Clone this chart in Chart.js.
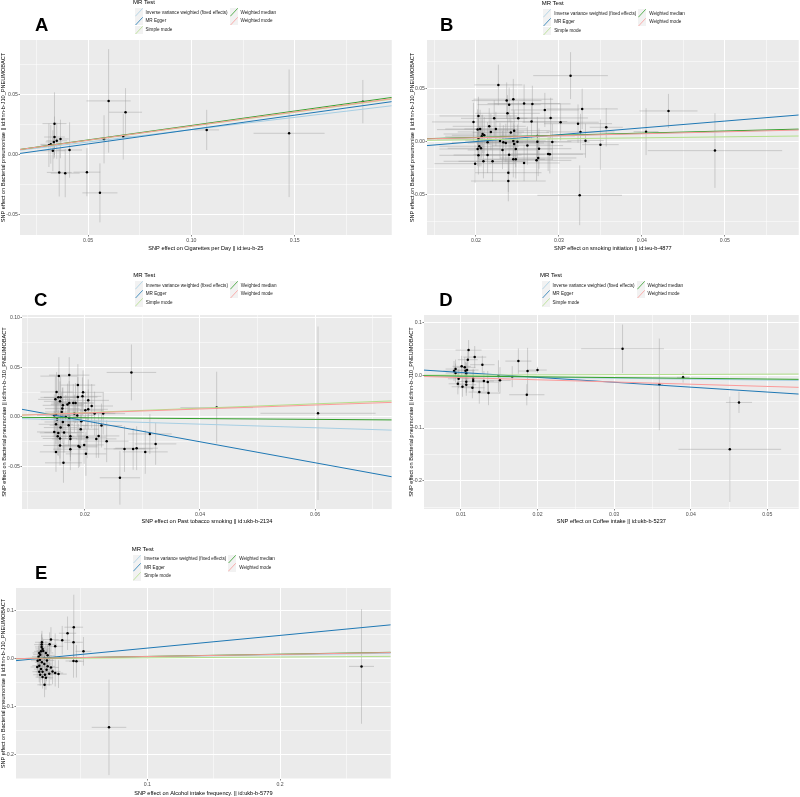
<!DOCTYPE html>
<html><head><meta charset="utf-8">
<script src="https://cdn.jsdelivr.net/npm/chart.js@4/dist/chart.umd.min.js"></script>
<style>
html,body{margin:0;padding:0;background:#fff;}
body{width:800px;height:797px;position:relative;overflow:hidden;font-family:"Liberation Sans",Arial,Helvetica,sans-serif;}
canvas{position:absolute;}
.lab{position:absolute;font-weight:bold;font-size:18.5px;line-height:18.5px;color:#000;}
.lt{position:absolute;font-size:6px;line-height:7px;color:#000;white-space:nowrap;}
.li{position:absolute;font-size:4.6px;line-height:6px;color:#1a1a1a;white-space:nowrap;}
.lk{position:absolute;width:8px;height:8.6px;background:#F2F2F2;}
.lk svg{position:absolute;left:0;top:0;}
</style>
</head><body>
<script>
// ---------- shared ----------
const METHODS = ["Inverse variance weighted (fixed effects)","MR Egger","Simple mode","Weighted median","Weighted mode"];
const METHOD_COLORS = ["#a6cee3","#1f78b4","#b2df8a","#33a02c","#fb9a99"];
const LEGEND_TITLE = "MR Test";
const Y_TITLE = "SNP effect on Bacterial pneumoniae || id:finn-b-J10_PNEUMOBACT";

// ---------- Panel A ----------
const A_xTitle = "SNP effect on Cigarettes per Day || id:ieu-b-25";
const A_bx = [0.1830,0.1473,0.1074,0.0599,0.0681,0.0670,0.0577,0.0557,0.0494,0.0389,0.0360,0.0337,0.0337,0.0366,0.0348,0.0334,0.0319,0.0310,0.0329,0.0410];
const A_by = [0.0438,0.0175,0.0203,0.0444,0.0350,0.0147,0.0125,-0.0320,-0.0148,-0.0156,-0.0150,0.0255,0.0144,0.0128,0.0113,0.0103,0.0083,0.0075,0.0030,0.0036];
const A_sex = [0.0020,0.0172,0.0060,0.0107,0.0080,0.0040,0.0030,0.0085,0.0065,0.0070,0.0060,0.0058,0.0050,0.0040,0.0050,0.0040,0.0050,0.0040,0.0060,0.0060];
const A_sey = [0.0180,0.0530,0.0167,0.0430,0.0200,0.0190,0.0200,0.0245,0.0200,0.0200,0.0200,0.0260,0.0170,0.0160,0.0150,0.0140,0.0160,0.0180,0.0170,0.0230];
const A_slopes = [0.205,0.239,0.233,0.240,0.235];
const A_intercepts = [0,-0.0033,0,0,0];
const A_xTicks = ["0.05","0.10","0.15"];
const A_yTicks = ["-0.05","0.00","0.05"];
const A_xRange = [0.017,0.197];
const A_yRange = [-0.067,0.095];

// ---------- Panel B ----------
const B_xTitle = "SNP effect on smoking initiation || id:ieu-b-4877";
const B_bx = [0.0314,0.0227,0.0237,0.0245,0.0240,0.0258,0.0268,0.0283,0.0328,0.0238,
0.0203,0.0251,0.0222,0.0290,0.0197,0.0267,0.0302,0.0323,0.0357,0.0216,
0.0224,0.0202,0.0205,0.0218,0.0242,0.0246,0.0208,0.0210,0.0207,0.0326,
0.0274,0.0203,0.0229,0.0233,0.0236,0.0214,0.0245,0.0246,0.0250,0.0274,
0.0292,0.0332,0.0350,0.0262,0.0204,0.0206,0.0202,0.0232,0.0248,0.0276,
0.0203,0.0214,0.0240,0.0287,0.0289,0.0275,0.0273,0.0248,0.0245,0.0209,
0.0220,0.0199,0.0258,0.0239,0.0239,0.0325,0.0432,0.0405,0.0488];
const B_by = [0.0619,0.0532,0.0385,0.0398,0.0347,0.0357,0.0354,0.0297,0.0307,0.0266,
0.0241,0.0219,0.0219,0.0222,0.0185,0.0188,0.0182,0.0169,0.0135,0.0144,
0.0119,0.0113,0.0119,0.0091,0.0085,0.0103,0.0072,0.0060,0.0051,0.0091,
0.0053,0.0025,0.0007,-0.0006,-0.0012,-0.0006,0.0007,-0.0022,0.0000,0.0000,
-0.0003,0.0009,-0.0028,-0.0037,-0.0043,-0.0062,-0.0069,-0.0078,-0.0069,-0.0066,
-0.0128,-0.0125,-0.0122,-0.0115,-0.0118,-0.0153,-0.0175,-0.0165,-0.0165,-0.0184,
-0.0184,-0.0206,-0.0200,-0.0291,-0.0369,-0.0503,0.0288,0.0094,-0.0084];
const B_sex = [0.0045,0.0029,0.0042,0.0048,0.0038,0.0044,0.0046,0.0041,0.0043,0.0039,
0.0047,0.0042,0.0040,0.0045,0.0050,0.0043,0.0046,0.0041,0.0020,0.0044,
0.0038,0.0049,0.0042,0.0040,0.0046,0.0043,0.0047,0.0039,0.0044,0.0041,
0.0045,0.0050,0.0042,0.0040,0.0046,0.0043,0.0039,0.0044,0.0047,0.0041,
0.0045,0.0022,0.0022,0.0043,0.0048,0.0040,0.0046,0.0042,0.0044,0.0039,
0.0047,0.0041,0.0043,0.0045,0.0040,0.0046,0.0042,0.0044,0.0038,0.0048,
0.0041,0.0049,0.0043,0.0040,0.0045,0.0051,0.0035,0.0015,0.0081];
const B_sey = [0.0220,0.0190,0.0170,0.0190,0.0160,0.0180,0.0170,0.0160,0.0190,0.0170,
0.0180,0.0160,0.0170,0.0190,0.0180,0.0160,0.0170,0.0180,0.0180,0.0170,
0.0160,0.0190,0.0180,0.0170,0.0160,0.0190,0.0180,0.0170,0.0200,0.0170,
0.0180,0.0190,0.0170,0.0160,0.0180,0.0190,0.0170,0.0180,0.0160,0.0190,
0.0170,0.0160,0.0235,0.0180,0.0190,0.0170,0.0160,0.0180,0.0170,0.0190,
0.0180,0.0170,0.0190,0.0160,0.0180,0.0170,0.0190,0.0180,0.0170,0.0160,
0.0190,0.0180,0.0170,0.0180,0.0190,0.0280,0.0160,0.0220,0.0350];
const B_slopes = [0.190,0.640,0.090,0.200,0.185];
const B_intercepts = [0,-0.0127,0,0,0];
const B_xTicks = ["0.02","0.03","0.04","0.05"];
const B_yTicks = ["-0.05","0.00","0.05"];
const B_xRange = [0.0141,0.0589];
const B_yRange = [-0.0875,0.0953];

// ---------- Panel C ----------
const C_xTitle = "SNP effect on Past tobacco smoking || id:ukb-b-2134";
const C_bx = [0.0281,0.0155,0.0173,0.0188,0.0151,0.0197,0.0154,0.0158,0.0188,0.0149,
0.0196,0.0206,0.0157,0.0173,0.0180,0.0170,0.0184,0.0162,0.0212,0.0161,
0.0206,0.0201,0.0217,0.0232,0.0160,0.0150,0.0182,0.0187,0.0167,0.0173,
0.0152,0.0194,0.0162,0.0150,0.0172,0.0158,0.0229,0.0193,0.0147,0.0154,
0.0164,0.0153,0.0175,0.0224,0.0157,0.0204,0.0220,0.0175,0.0238,0.0157,
0.0189,0.0191,0.0199,0.0175,0.0150,0.0202,0.0163,0.0269,0.0284,0.0290,
0.0261,0.0313,0.0323,0.0305,0.0429,0.0605,0.0147];
const C_by = [0.0447,0.0410,0.0420,0.0320,0.0250,0.0247,0.0197,0.0197,0.0200,0.0177,
0.0207,0.0167,0.0157,0.0140,0.0140,0.0124,0.0140,0.0117,0.0110,0.0084,
0.0077,0.0067,0.0034,0.0034,0.0050,0.0024,0.0034,0.0014,0.0000,-0.0010,
-0.0026,-0.0043,-0.0050,-0.0073,-0.0083,-0.0106,-0.0086,-0.0123,-0.0150,-0.0160,
-0.0156,-0.0193,-0.0193,-0.0190,-0.0216,-0.0203,-0.0220,-0.0220,-0.0243,-0.0286,
-0.0290,-0.0300,-0.0280,-0.0323,-0.0350,-0.0370,-0.0460,-0.0320,-0.0320,-0.0313,
-0.0610,-0.0170,-0.0270,-0.0350,0.0094,0.0037,0.0017];
const C_sex = [0.0043,0.0032,0.0035,0.0030,0.0028,0.0036,0.0031,0.0029,0.0034,0.0030,
0.0033,0.0036,0.0028,0.0031,0.0034,0.0029,0.0032,0.0035,0.0037,0.0030,
0.0034,0.0031,0.0036,0.0038,0.0029,0.0033,0.0032,0.0030,0.0035,0.0031,
0.0028,0.0034,0.0032,0.0030,0.0033,0.0029,0.0036,0.0031,0.0030,0.0032,
0.0034,0.0029,0.0031,0.0036,0.0030,0.0033,0.0035,0.0032,0.0038,0.0029,
0.0033,0.0031,0.0034,0.0030,0.0028,0.0035,0.0032,0.0036,0.0034,0.0037,
0.0035,0.0038,0.0036,0.0039,0.0063,0.0100,0.0030];
const C_sey = [0.0280,0.0190,0.0180,0.0210,0.0200,0.0220,0.0190,0.0210,0.0200,0.0230,
0.0190,0.0210,0.0200,0.0220,0.0190,0.0210,0.0200,0.0180,0.0220,0.0210,
0.0200,0.0190,0.0220,0.0210,0.0200,0.0230,0.0190,0.0210,0.0220,0.0200,
0.0210,0.0190,0.0220,0.0200,0.0210,0.0190,0.0220,0.0200,0.0210,0.0230,
0.0200,0.0190,0.0210,0.0220,0.0200,0.0210,0.0190,0.0220,0.0210,0.0200,
0.0220,0.0200,0.0190,0.0210,0.0200,0.0220,0.0200,0.0230,0.0210,0.0220,
0.0270,0.0200,0.0210,0.0220,0.0360,0.0870,0.0210];
const C_slopes = [-0.180,-1.054,0.220,-0.040,0.200];
const C_intercepts = [0,0.0173,0,0,0];
const C_xTicks = ["0.02","0.04","0.06"];
const C_yTicks = ["-0.05","0.00","0.05","0.10"];
const C_xRange = [0.0091,0.0733];
const C_yRange = [-0.0923,0.1023];

// ---------- Panel D ----------
const D_xTitle = "SNP effect on Coffee intake || id:ukb-b-5237";
const D_bx = [0.0110,0.0118,0.0109,0.0128,0.0101,0.0105,0.0093,0.0108,0.0106,0.0091,
0.0093,0.0107,0.0175,0.0187,0.0200,0.0149,0.0151,0.0167,0.0116,0.0107,
0.0097,0.0116,0.0130,0.0135,0.0096,0.0102,0.0107,0.0115,0.0124,0.0136,
0.0186,0.0311,0.0359,0.0390,0.0463,0.0451];
const D_by = [0.0480,0.0347,0.0297,0.0202,0.0171,0.0152,0.0120,0.0101,0.0088,0.0082,
0.0044,0.0038,0.0271,0.0082,0.0101,-0.0013,-0.0095,-0.0025,-0.0064,-0.0121,
-0.0064,-0.0108,-0.0108,-0.0127,-0.0160,-0.0216,-0.0178,-0.0235,-0.0317,-0.0336,
-0.0368,0.0505,-0.0171,-0.0038,-0.0513,-0.1404];
const D_sex = [0.0017,0.0015,0.0013,0.0016,0.0012,0.0014,0.0013,0.0015,0.0012,0.0014,
0.0013,0.0015,0.0017,0.0012,0.0012,0.0016,0.0014,0.0015,0.0013,0.0012,
0.0014,0.0016,0.0013,0.0015,0.0012,0.0014,0.0013,0.0016,0.0014,0.0015,
0.0023,0.0054,0.0005,0.0008,0.0017,0.0067];
const D_sey = [0.0190,0.0210,0.0180,0.0170,0.0200,0.0190,0.0180,0.0200,0.0170,0.0190,
0.0180,0.0200,0.0240,0.0440,0.0060,0.0300,0.0250,0.0200,0.0190,0.0210,
0.0180,0.0200,0.0190,0.0210,0.0200,0.0190,0.0210,0.0200,0.0220,0.0230,
0.0200,0.0460,0.0870,0.0100,0.0200,0.1000];
const D_slopes = [-0.180,-0.930,0.046,-0.140,-0.420];
const D_intercepts = [0,0.0148,0,0,0];
const D_xTicks = ["0.01","0.02","0.03","0.04","0.05"];
const D_yTicks = ["-0.2","-0.1","0.0","0.1"];
const D_xRange = [0.00518,0.0541];
const D_yRange = [-0.2537,0.1146];

// ---------- Panel E ----------
const E_xTitle = "SNP effect on Alcohol intake frequency. || id:ukb-b-5779";
const E_bx = [0.2613,0.0712,0.0447,0.0400,0.0360,0.0445,0.0520,0.0445,0.0467,0.0275,
0.0265,0.0307,0.0207,0.0205,0.0205,0.0212,0.0200,0.0187,0.0217,0.0194,
0.0182,0.0237,0.0250,0.0227,0.0262,0.0245,0.0192,0.0207,0.0175,0.0225,
0.0250,0.0187,0.0172,0.0275,0.0200,0.0242,0.0287,0.0212,0.0187,0.0262,
0.0230,0.0307,0.0194,0.0212,0.0332,0.0237,0.0227];
const E_by = [-0.0162,-0.1438,0.0659,0.0533,0.0386,0.0343,0.0154,-0.0048,-0.0055,0.0400,
0.0301,0.0259,0.0343,0.0295,0.0246,0.0204,0.0154,0.0120,0.0162,0.0084,
0.0042,0.0120,0.0070,0.0014,0.0014,-0.0036,-0.0021,-0.0077,-0.0042,-0.0112,
-0.0161,-0.0147,-0.0175,-0.0183,-0.0218,-0.0232,-0.0267,-0.0274,-0.0274,-0.0316,
-0.0337,-0.0302,-0.0337,-0.0386,-0.0323,-0.0400,-0.0547];
const E_sex = [0.0094,0.0130,0.0070,0.0065,0.0060,0.0070,0.0060,0.0060,0.0055,0.0058,
0.0055,0.0060,0.0052,0.0056,0.0050,0.0054,0.0052,0.0050,0.0055,0.0053,
0.0050,0.0056,0.0054,0.0052,0.0058,0.0055,0.0051,0.0053,0.0050,0.0054,
0.0056,0.0052,0.0050,0.0058,0.0053,0.0055,0.0060,0.0052,0.0051,0.0057,
0.0054,0.0060,0.0052,0.0053,0.0062,0.0055,0.0054];
const E_sey = [0.1200,0.1000,0.0680,0.0350,0.0300,0.0300,0.0300,0.0350,0.0340,0.0260,
0.0250,0.0270,0.0240,0.0230,0.0250,0.0240,0.0220,0.0230,0.0240,0.0220,
0.0230,0.0250,0.0240,0.0230,0.0260,0.0240,0.0220,0.0230,0.0220,0.0240,
0.0250,0.0230,0.0220,0.0260,0.0230,0.0240,0.0270,0.0230,0.0220,0.0250,
0.0240,0.0280,0.0230,0.0240,0.0290,0.0250,0.0260];
const E_slopes = [0.040,0.266,0.017,0.047,0.045];
const E_intercepts = [0,-0.0045,0,0,0];
const E_xTicks = ["0.1","0.2"];
const E_yTicks = ["-0.2","-0.1","0.0","0.1"];
const E_xRange = [0.0012,0.2833];
const E_yRange = [-0.252,0.148];

// ---------- layout (positions only) ----------
const PANELS = [
  {label:"A", xTitle:A_xTitle, bx:A_bx, by:A_by, sex:A_sex, sey:A_sey, slopes:A_slopes, ints:A_intercepts, xTicks:A_xTicks, yTicks:A_yTicks, xRange:A_xRange, yRange:A_yRange,
   box:{cl:0, L:20, R:393, T:40, B:235, yTX:3, xTY:248.5}, letter:{x:35, base:31.7}, legend:{x:133, y:2.8}},
  {label:"B", xTitle:B_xTitle, bx:B_bx, by:B_by, sex:B_sex, sey:B_sey, slopes:B_slopes, ints:B_intercepts, xTicks:B_xTicks, yTicks:B_yTicks, xRange:B_xRange, yRange:B_yRange,
   box:{cl:400, L:427, R:800, T:40, B:235, yTX:412, xTY:248.5}, letter:{x:440, base:31.7}, legend:{x:541.7, y:3.8}},
  {label:"C", xTitle:C_xTitle, bx:C_bx, by:C_by, sex:C_sex, sey:C_sey, slopes:C_slopes, ints:C_intercepts, xTicks:C_xTicks, yTicks:C_yTicks, xRange:C_xRange, yRange:C_yRange,
   box:{cl:0, L:22, R:393, T:315, B:509, yTX:4.5, xTY:522}, letter:{x:34, base:306.7}, legend:{x:133.3, y:275.7}},
  {label:"D", xTitle:D_xTitle, bx:D_bx, by:D_by, sex:D_sex, sey:D_sey, slopes:D_slopes, ints:D_intercepts, xTicks:D_xTicks, yTicks:D_yTicks, xRange:D_xRange, yRange:D_yRange,
   box:{cl:400, L:424, R:800, T:315, B:509, yTX:411, xTY:522}, letter:{x:439.3, base:306.7}, legend:{x:540, y:275.7}},
  {label:"E", xTitle:E_xTitle, bx:E_bx, by:E_by, sex:E_sex, sey:E_sey, slopes:E_slopes, ints:E_intercepts, xTicks:E_xTicks, yTicks:E_yTicks, xRange:E_xRange, yRange:E_yRange,
   box:{cl:0, L:16, R:392, T:588, B:779, yTX:2.5, xTY:793.5}, letter:{x:35, base:580}, legend:{x:131.7, y:549.3}}
];

Chart.defaults.font.family = "'Liberation Sans', Arial, Helvetica, sans-serif";

function makeTicks(labels, min, max){
  const vals = labels.map(Number);
  const step = vals[1]-vals[0], half = step/2;
  const out = [];
  const k0 = Math.floor((min-vals[0])/half)-1, k1 = Math.ceil((max-vals[0])/half)+1;
  for (let k=k0;k<=k1;k++){
    const v = Math.round((vals[0]+k*half)*1e9)/1e9;
    if (v < min-1e-12 || v > max+1e-12) continue;
    const mj = (k%2===0);
    let lbl = '';
    if (mj){ const idx = vals.findIndex(t=>Math.abs(t-v)<half/10); if (idx>=0) lbl = labels[idx]; }
    out.push({value:v, mj:mj, lbl:lbl});
  }
  return out;
}

const TITLE_FS = 5.6, TICK_FS = 5.2;

function axisOpts(isX, labels, range, title, size, titlePad){
  return {
    type:'linear', position: isX?'bottom':'left', min:range[0], max:range[1],
    afterBuildTicks: s => { s.ticks = makeTicks(labels, range[0], range[1]); },
    afterFit: s => { if (isX) s.height = size; else s.width = size; },
    ticks:{autoSkip:false, maxRotation:0, minRotation:0, padding:0.5, color:'#4D4D4D', font:{size:TICK_FS},
      callback:(v,i,t)=> (t[i] && t[i].lbl !== undefined) ? t[i].lbl : ''},
    grid:{drawTicks:true, tickLength:1.5, color:'#FFFFFF',
      lineWidth: c => (c.tick && c.tick.mj) ? 1 : 0.5,
      tickColor: c => (c.tick && c.tick.mj) ? '#333333' : 'rgba(0,0,0,0)', tickWidth:0.6},
    border:{display:false},
    title:{display:true, text:title, color:'#000', font:{size:TITLE_FS}, padding:{top:titlePad, bottom:0}}
  };
}

const mrPlugin = {
  id:'mrPlot',
  beforeDraw(chart){
    const {ctx, chartArea:a} = chart;
    ctx.save(); ctx.fillStyle = '#EBEBEB';
    ctx.fillRect(a.left, a.top, a.right-a.left, a.bottom-a.top); ctx.restore();
  },
  beforeDatasetsDraw(chart){
    const ds = chart.data.datasets[0];
    const xs = chart.scales.x, ys = chart.scales.y, a = chart.chartArea, ctx = chart.ctx;
    ctx.save();
    ctx.beginPath(); ctx.rect(a.left, a.top, a.right-a.left, a.bottom-a.top); ctx.clip();
    ctx.strokeStyle = 'rgba(150,150,150,0.5)'; ctx.lineWidth = 0.8;
    ds.data.forEach((p,i)=>{
      const px = xs.getPixelForValue(p.x), py = ys.getPixelForValue(p.y);
      ctx.beginPath();
      ctx.moveTo(xs.getPixelForValue(p.x-ds.sex[i]), py); ctx.lineTo(xs.getPixelForValue(p.x+ds.sex[i]), py);
      ctx.stroke();
      ctx.beginPath();
      ctx.moveTo(px, ys.getPixelForValue(p.y-ds.sey[i])); ctx.lineTo(px, ys.getPixelForValue(p.y+ds.sey[i]));
      ctx.stroke();
    });
    ctx.restore();
  }
};

function makePanel(p){
  const b = p.box, lh = TITLE_FS*1.2;
  const ct = b.T - 8;
  const cb = Math.round(b.xTY + lh/2);
  const cw = b.R - b.cl, ch = cb - ct;
  const W = b.L - b.cl, H = cb - b.B;
  const yPad = Math.max(0, b.yTX - b.cl - lh/2);
  const cv = document.createElement('canvas');
  cv.width = cw; cv.height = ch;
  cv.style.left = b.cl+'px'; cv.style.top = ct+'px'; cv.style.width = cw+'px'; cv.style.height = ch+'px';
  document.body.appendChild(cv);
  const datasets = [{
    type:'scatter', data: p.bx.map((x,i)=>({x:x, y:p.by[i]})), sex:p.sex, sey:p.sey,
    pointRadius:1.25, pointBackgroundColor:'#000', pointBorderWidth:0, pointHoverRadius:1.25, order:10
  }];
  const x0 = p.xRange[0], x1 = p.xRange[1];
  METHODS.forEach((m,k)=>{
    datasets.push({type:'line', label:m, data:[{x:x0, y:p.ints[k]+p.slopes[k]*x0},{x:x1, y:p.ints[k]+p.slopes[k]*x1}],
      borderColor:METHOD_COLORS[k], borderWidth:1, pointRadius:0, fill:false, tension:0, order:5-k});
  });
  new Chart(cv.getContext('2d'), {
    type:'scatter',
    data:{datasets:datasets},
    options:{
      responsive:false, animation:false, devicePixelRatio:1,
      layout:{padding:{top:8, left:0, right:0, bottom:0}},
      plugins:{legend:{display:false}, tooltip:{enabled:false}},
      scales:{
        x: axisOpts(true, p.xTicks, p.xRange, p.xTitle, H, 0),
        y: axisOpts(false, p.yTicks, p.yRange, Y_TITLE, W, yPad)
      }
    },
    plugins:[mrPlugin]
  });
  // panel letter
  const lab = document.createElement('div'); lab.className='lab'; lab.textContent = p.label;
  lab.style.left = p.letter.x+'px'; lab.style.top = (p.letter.base-15.66)+'px';
  document.body.appendChild(lab);
  // legend
  const lg = p.legend;
  const t = document.createElement('div'); t.className='lt'; t.textContent = LEGEND_TITLE;
  t.style.left = lg.x+'px'; t.style.top = (lg.y-3.5)+'px'; document.body.appendChild(t);
  METHODS.forEach((m,k)=>{
    const col = k<3?0:1, row = k<3?k:k-3;
    const kx = lg.x + 1.5 + col*95, cy = lg.y + 9.8 + row*8.6;
    const key = document.createElement('div'); key.className='lk';
    key.style.left = kx+'px'; key.style.top = (cy-4.3)+'px';
    key.innerHTML = '<svg width="8" height="8.6" viewBox="0 0 8 8.6"><line x1="0.3" y1="8.3" x2="7.7" y2="0.3" stroke="'+METHOD_COLORS[k]+'" stroke-width="0.8"/></svg>';
    document.body.appendChild(key);
    const tx = document.createElement('div'); tx.className='li'; tx.textContent = m;
    tx.style.left = (kx+11)+'px'; tx.style.top = (cy-3)+'px';
    document.body.appendChild(tx);
  });
}

PANELS.forEach(makePanel);
</script>
</body></html>
